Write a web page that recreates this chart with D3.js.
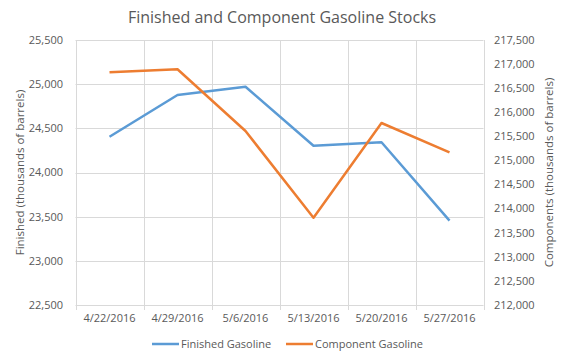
<!DOCTYPE html>
<html><head><meta charset="utf-8">
<script src="https://cdn.jsdelivr.net/npm/d3@7"></script>
<style>body{margin:0;background:#fff;} svg{display:block;font-family:"Open Sans","Liberation Sans",sans-serif;}</style>
</head><body>
<svg id="c" width="564" height="358"></svg>
<script>
const categories = ["4/22/2016","4/29/2016","5/6/2016","5/13/2016","5/20/2016","5/27/2016"];
const finished = [24405, 24877, 24971, 24303, 24342, 23455];
const component = [216830, 216892, 215611, 213812, 215777, 215169];
const leftTicks = [22500, 23000, 23500, 24000, 24500, 25000, 25500];
const rightTicks = [212000,212500,213000,213500,214000,214500,215000,215500,216000,216500,217000,217500];

const svg = d3.select("#c");
const L = 75.5, R = 483.5, T = 40, B = 305;
const x = d3.scaleBand().domain(categories).range([L, R]);
const yL = d3.scaleLinear().domain([22500, 25500]).range([B, T]);
const yR = d3.scaleLinear().domain([212000, 217500]).range([B, T]);
const grid = "#d9d9d9", txt = "#595959";

// horizontal gridlines
svg.append("g").selectAll("line").data(leftTicks).join("line")
  .attr("x1", L).attr("x2", R)
  .attr("y1", d => Math.round(yL(d)) + 0.5).attr("y2", d => Math.round(yL(d)) + 0.5)
  .attr("stroke", grid).attr("stroke-width", 1);
// vertical gridlines at category boundaries
const bounds = categories.map(c => x(c)).concat([R]);
svg.append("g").selectAll("line").data(bounds).join("line")
  .attr("x1", d => Math.round(d) + 0.5).attr("x2", d => Math.round(d) + 0.5)
  .attr("y1", T).attr("y2", B + 5)
  .attr("stroke", grid).attr("stroke-width", 1);

// left tick labels
svg.append("g").selectAll("text").data(leftTicks).join("text")
  .attr("x", 63).attr("y", d => yL(d)).attr("dy", "0.35em")
  .attr("text-anchor", "end").attr("font-size", 11).attr("fill", txt)
  .text(d => d3.format(",")(d));
// right tick labels
svg.append("g").selectAll("text").data(rightTicks).join("text")
  .attr("x", 494).attr("y", d => yR(d)).attr("dy", "0.35em")
  .attr("text-anchor", "start").attr("font-size", 11).attr("fill", txt)
  .text(d => d3.format(",")(d));
// x labels
svg.append("g").selectAll("text").data(categories).join("text")
  .attr("x", d => x(d) + x.bandwidth() / 2).attr("y", 318).attr("dy", "0.35em")
  .attr("text-anchor", "middle").attr("font-size", 11).attr("fill", txt)
  .text(d => d);

// title
svg.append("text").attr("x", 282).attr("y", 17).attr("dy", "0.35em")
  .attr("text-anchor", "middle").attr("font-size", 16).attr("fill", txt)
  .text("Finished and Component Gasoline Stocks");
// axis titles
svg.append("text").attr("transform", `translate(20,${(T + B) / 2}) rotate(-90)`)
  .attr("dy", "0.35em").attr("text-anchor", "middle").attr("font-size", 11.5).attr("fill", txt)
  .text("Finished (thousands of barrels)");
svg.append("text").attr("transform", `translate(549,${(T + B) / 2}) rotate(-90)`)
  .attr("dy", "0.35em").attr("text-anchor", "middle").attr("font-size", 11.5).attr("fill", txt)
  .text("Components (thousands of barrels)");

const cx = d => x(d) + x.bandwidth() / 2;
const lineL = d3.line().x((d, i) => cx(categories[i])).y(d => yL(d));
const lineR = d3.line().x((d, i) => cx(categories[i])).y(d => yR(d));
svg.append("path").datum(finished).attr("d", lineL).attr("fill", "none")
  .attr("stroke", "#5b9bd5").attr("stroke-width", 2.5).attr("stroke-linejoin", "round");
svg.append("path").datum(component).attr("d", lineR).attr("fill", "none")
  .attr("stroke", "#ed7d31").attr("stroke-width", 2.5).attr("stroke-linejoin", "round");

// legend
const legend = [{name: "Finished Gasoline", color: "#5b9bd5", x: 152}, {name: "Component Gasoline", color: "#ed7d31", x: 286}];
const lg = svg.append("g").selectAll("g").data(legend).join("g");
lg.append("line").attr("x1", d => d.x).attr("x2", d => d.x + 27).attr("y1", 344).attr("y2", 344)
  .attr("stroke", d => d.color).attr("stroke-width", 2.5);
lg.append("text").attr("x", d => d.x + 29).attr("y", 344).attr("dy", "0.35em")
  .attr("font-size", 11).attr("fill", txt).text(d => d.name);
</script>
</body></html>
